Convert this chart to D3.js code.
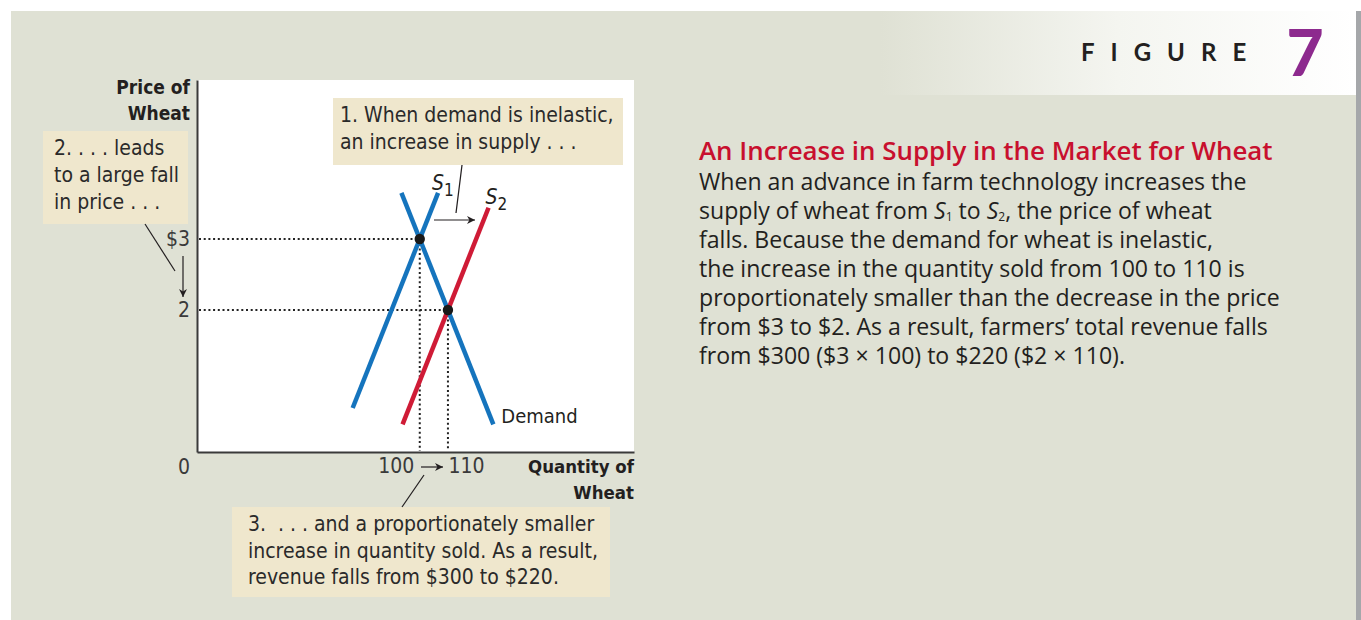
<!DOCTYPE html>
<html>
<head>
<meta charset="utf-8">
<script src="https://cdn.jsdelivr.net/npm/d3@7"></script>
<style>
  html, body { margin: 0; padding: 0; background: #ffffff; }
  svg { display: block; }
  .narrow { font-family: "Liberation Sans Narrow", "DejaVu Sans Condensed", "Liberation Sans", sans-serif; }
  .body { font-family: "Open Sans", "Noto Sans", sans-serif; }
  .keep { white-space: pre; }
</style>
</head>
<body>
<svg id="fig" width="1361" height="620"></svg>
<script>
// ---- data -------------------------------------------------------------
// Curve endpoints: quantity of wheat, price in dollars
const demand = [{ q: 93.5, p: 3.65 }, { q: 126.1, p: 0.39 }];
const supply1 = [{ q: 106.5, p: 3.65 }, { q: 76.2, p: 0.62 }];
const supply2 = [{ q: 124.4, p: 3.44 }, { q: 93.9, p: 0.39 }];
// Market equilibria before and after the supply shift
const equilibria = [{ q: 100, p: 3 }, { q: 110, p: 2 }];
// Axis tick values and labels
const priceTicks = [3, 2];
const priceLabels = ["$3", "2"];
const qtyTicks = [100, 110];
const qtyLabels = ["100", "110"];

const note1 = ["1. When demand is inelastic,", "an increase in supply . . ."];
const note2 = ["2. . . . leads", "to a large fall", "in price . . ."];
const note3 = ["3.  . . . and a proportionately smaller",
               "increase in quantity sold. As a result,",
               "revenue falls from $300 to $220."];
const captionTitle = "An Increase in Supply in the Market for Wheat";

// ---- layout -----------------------------------------------------------
const svg = d3.select("#fig");
const plot = { left: 197, top: 80, right: 634, bottom: 452 };
const ink = "#231f20";
const blue = "#1574bd";
const red = "#cf1b36";
const noteFill = "#efe7cd";

const defs = svg.append("defs");
const grad = defs.append("linearGradient").attr("id", "headGrad")
  .attr("x1", "0").attr("x2", "1").attr("y1", "0").attr("y2", "0");
grad.append("stop").attr("offset", "0").attr("stop-color", "#dfe1d4");
grad.append("stop").attr("offset", "0.5").attr("stop-color", "#f4f5f0");
grad.append("stop").attr("offset", "1").attr("stop-color", "#ffffff");

defs.append("marker").attr("id", "arrow")
  .attr("viewBox", "0 0 10 10").attr("refX", 10).attr("refY", 5)
  .attr("markerWidth", 10).attr("markerHeight", 8)
  .attr("markerUnits", "userSpaceOnUse")
  .attr("orient", "auto")
  .append("path").attr("d", "M0,0 L10,5 L0,10 L3,5 Z").attr("fill", ink);

// panel background
svg.append("rect").attr("x", 11).attr("y", 11).attr("width", 1345).attr("height", 609)
  .attr("fill", "#dfe1d4");
svg.append("rect").attr("x", 1356).attr("y", 11).attr("width", 5).attr("height", 609)
  .attr("fill", "#a5a7aa");
svg.append("rect").attr("x", 880).attr("y", 11).attr("width", 476).attr("height", 84)
  .attr("fill", "url(#headGrad)");

// figure tag
svg.append("text").attr("x", 1081).attr("y", 61)
  .attr("font-family", "Lato, 'Open Sans', sans-serif").attr("font-weight", 700)
  .attr("font-size", 24).attr("letter-spacing", 16).attr("fill", ink)
  .text("FIGURE");
svg.append("text").attr("x", 1305).attr("y", 76).attr("text-anchor", "middle")
  .attr("font-family", "Lato, 'Open Sans', sans-serif").attr("font-weight", 900)
  .attr("font-size", 64).attr("fill", "#8d2a8e")
  .text("7");

// plot background
svg.append("rect").attr("x", plot.left).attr("y", plot.top)
  .attr("width", plot.right - plot.left).attr("height", plot.bottom - plot.top)
  .attr("fill", "#ffffff");

// ---- scales -----------------------------------------------------------
// the quantity axis is compressed near the origin
const x = d3.scaleLinear().domain([0, 60, 176]).range([plot.left, plot.left + 110, plot.right]);
const y = d3.scaleLinear().domain([0, 5.24]).range([plot.bottom, plot.top]);

// ---- axes -------------------------------------------------------------
const yAxis = d3.axisLeft(y).tickValues(priceTicks).tickSize(0).tickPadding(7)
  .tickFormat((d, i) => priceLabels[i]);
const gy = svg.append("g").attr("transform", `translate(${plot.left},0)`).call(yAxis);
gy.select(".domain").attr("stroke", "#3a3a3a").attr("stroke-width", 2);
gy.selectAll("text").attr("class", "narrow").attr("font-size", 21).attr("fill", "#3a3a3a");

const xAxis = d3.axisBottom(x).tickValues(qtyTicks).tickSize(0).tickPadding(6)
  .tickFormat((d, i) => qtyLabels[i]);
const gx = svg.append("g").attr("transform", `translate(0,${plot.bottom})`).call(xAxis);
gx.select(".domain").attr("stroke", "#3a3a3a").attr("stroke-width", 2);
gx.selectAll("text").attr("class", "narrow").attr("font-size", 21).attr("fill", "#3a3a3a")
  .attr("text-anchor", (d, i) => i === 0 ? "end" : "start")
  .attr("dx", (d, i) => i === 0 ? -6 : 0);

svg.append("text").attr("class", "narrow").attr("x", 190).attr("y", 474)
  .attr("text-anchor", "end").attr("font-size", 21).attr("fill", "#3a3a3a").text("0");

// axis titles
const yTitle = svg.append("text").attr("class", "narrow").attr("text-anchor", "end")
  .attr("font-weight", 700).attr("font-size", 19).attr("fill", ink);
yTitle.append("tspan").attr("x", 190).attr("y", 94).text("Price of");
yTitle.append("tspan").attr("x", 190).attr("y", 120).text("Wheat");
const xTitle = svg.append("text").attr("class", "narrow").attr("text-anchor", "end")
  .attr("font-weight", 700).attr("font-size", 18.5).attr("fill", ink);
xTitle.append("tspan").attr("x", 634).attr("y", 473).text("Quantity of");
xTitle.append("tspan").attr("x", 634).attr("y", 499).text("Wheat");

// ---- guide lines to the equilibria ------------------------------------
const dotted = svg.append("g").attr("stroke", "#222").attr("stroke-width", 2)
  .attr("stroke-dasharray", "2,2.7");
equilibria.forEach(e => {
  dotted.append("line").attr("x1", plot.left + 2).attr("x2", x(e.q))
    .attr("y1", y(e.p)).attr("y2", y(e.p));
  dotted.append("line").attr("x1", x(e.q)).attr("x2", x(e.q))
    .attr("y1", y(e.p)).attr("y2", plot.bottom - 1);
});

// ---- curves -----------------------------------------------------------
const line = d3.line().x(d => x(d.q)).y(d => y(d.p));
svg.append("path").datum(demand).attr("d", line).attr("fill", "none")
  .attr("stroke", blue).attr("stroke-width", 4.5);
svg.append("path").datum(supply1).attr("d", line).attr("fill", "none")
  .attr("stroke", blue).attr("stroke-width", 4.5);
svg.append("path").datum(supply2).attr("d", line).attr("fill", "none")
  .attr("stroke", red).attr("stroke-width", 4.5);

svg.selectAll("circle.eq").data(equilibria).join("circle").attr("class", "eq")
  .attr("cx", d => x(d.q)).attr("cy", d => y(d.p)).attr("r", 5.2).attr("fill", "#1a1a1a");

// curve labels
function supplyLabel(px, py, sub) {
  const t = svg.append("text").attr("class", "narrow").attr("fill", ink).attr("x", px).attr("y", py);
  t.append("tspan").attr("font-style", "italic").attr("font-size", 21).text("S");
  t.append("tspan").attr("font-size", 17).attr("dy", 6).text(sub);
}
supplyLabel(x(supply1[0].q) - 6, y(supply1[0].p) - 3, "1");
supplyLabel(x(supply2[0].q) - 3, y(supply2[0].p) - 4, "2");
svg.append("text").attr("class", "narrow").attr("x", x(demand[1].q) + 8).attr("y", 423)
  .attr("font-size", 20).attr("fill", ink).text("Demand");

// ---- notes ------------------------------------------------------------
function note(lines, bx, by, bw, bh, tx, ty, lh) {
  svg.append("rect").attr("x", bx).attr("y", by).attr("width", bw).attr("height", bh)
    .attr("fill", noteFill);
  const t = svg.append("text").attr("class", "narrow keep").attr("font-size", 21).attr("fill", "#2a2a2a");
  lines.forEach((s, i) => t.append("tspan").attr("x", tx).attr("y", ty + i * lh).text(s));
}
note(note1, 333, 98, 290, 67, 340, 122, 27);
note(note2, 43, 131, 145, 93, 54, 155, 27);
note(note3, 232, 507, 378, 90, 248, 531, 26.5);

// leaders and arrows
const leaders = svg.append("g").attr("stroke", ink).attr("stroke-width", 1.2).attr("fill", "none");
leaders.append("line").attr("x1", 462).attr("y1", 165).attr("x2", 456).attr("y2", 213);
leaders.append("line").attr("x1", 145).attr("y1", 224).attr("x2", 175).attr("y2", 271);
leaders.append("line").attr("x1", 424).attr("y1", 475).attr("x2", 402).attr("y2", 507);
leaders.append("line").attr("x1", 434).attr("y1", 220).attr("x2", 475).attr("y2", 220)
  .attr("marker-end", "url(#arrow)");
leaders.append("line").attr("x1", 183).attr("y1", 256).attr("x2", 183).attr("y2", 297)
  .attr("marker-end", "url(#arrow)");
leaders.append("line").attr("x1", 421).attr("y1", 467).attr("x2", 443).attr("y2", 467)
  .attr("marker-end", "url(#arrow)");

// ---- caption ----------------------------------------------------------
svg.append("text").attr("class", "body").attr("x", 699).attr("y", 160)
  .attr("font-size", 25.9).attr("font-weight", 600).attr("fill", "#c8102e").text(captionTitle);

const cap = svg.append("text").attr("class", "body").attr("font-size", 23.1).attr("fill", "#231f20");
const capLines = [
  [["When an advance in farm technology increases the"]],
  [["supply of wheat from "], ["S", "i"], ["1", "s"], [" to "], ["S", "i"], ["2", "s"], [", the price of wheat"]],
  [["falls. Because the demand for wheat is inelastic,"]],
  [["the increase in the quantity sold from 100 to 110 is"]],
  [["proportionately smaller than the decrease in the price"]],
  [["from $3 to $2. As a result, farmers\u2019 total revenue falls"]],
  [["from $300 ($3 \u00d7 100) to $220 ($2 \u00d7 110)."]]
];
capLines.forEach((parts, i) => {
  const baseY = 190 + i * 29;
  parts.forEach((part, j) => {
    const ts = cap.append("tspan").text(part[0]);
    if (j === 0) ts.attr("x", 699).attr("y", baseY);
    if (part[1] === "i") ts.attr("font-style", "italic").attr("y", baseY);
    if (part[1] === "s") ts.attr("font-size", 12).attr("y", baseY + 2);
    if (!part[1] && j > 0) ts.attr("y", baseY);
  });
});
</script>
</body>
</html>
